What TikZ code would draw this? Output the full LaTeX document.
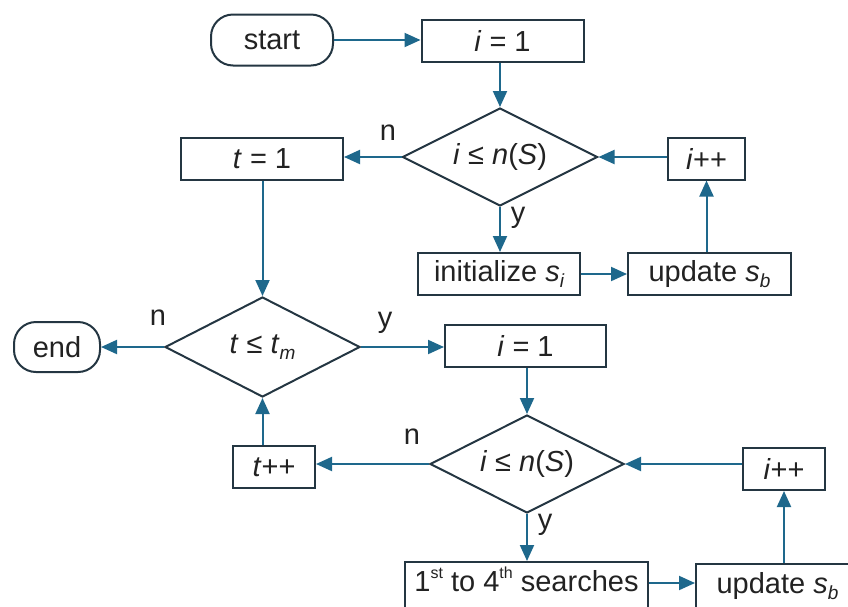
\documentclass[tikz,border=0pt]{standalone}
\usepackage{fontspec}
\setmainfont{Liberation Sans}
\usetikzlibrary{shapes.geometric,arrows.meta,positioning}

\definecolor{flowblue}{RGB}{30,104,140}
\definecolor{edgegray}{RGB}{36,54,66}
\definecolor{textgray}{RGB}{34,34,34}

\newcommand{\lowidx}[1]{\raisebox{-0.4ex}{\fontsize{19}{19}\selectfont\itshape #1}}
\newcommand{\ordsup}[1]{\raisebox{0.8ex}{\fontsize{16}{16}\selectfont #1}}

\tikzset{
  every node/.style={font=\fontsize{29}{33}\selectfont, text=textgray},
  box/.style={draw=edgegray, line width=2pt, minimum width=162pt, minimum height=42pt, inner sep=0pt},
  smallbox/.style={box, minimum width=80pt},
  lowbox/.style={box, minimum height=0pt, text height=29pt, text depth=26pt, anchor=north},
  terminal/.style={draw=edgegray, line width=2pt, rounded corners=22pt, minimum height=51pt, inner sep=0pt},
  decision/.style={diamond, draw=edgegray, line width=2pt, aspect=2, minimum width=195pt, minimum height=98pt, inner sep=0pt},
  flow/.style={draw=flowblue, line width=2pt, -{Triangle[length=16pt,width=14pt]}},
  tag/.style={inner sep=0pt},
}

\begin{document}
\begin{tikzpicture}[x=1pt, y=-1pt]

  \path[use as bounding box, clip] (0,0) rectangle (848,606);

  % outer loop: set up the population
  \node (start) [terminal, minimum width=122pt] at (272,40) {start};
  \node (I1) [box] at (502.5,41) {\textit{i} = 1};
  \node (D1) [decision] at (500,157) {\textit{i} ≤ \textit{n}(\textit{S})};
  \node (T1) [box] at (262,158.5) {\textit{t} = 1};
  \node (Inc1) [smallbox, minimum width=77pt] at (706.5,158.5) {\textit{i}++};
  \node (Init) [box] at (499,274) {initialize \textit{s}\lowidx{i}};
  \node (Upd1) [box, minimum width=163pt] at (709.5,274) {update \textit{s}\lowidx{b}};

  % iterations
  \node (D2) [decision, minimum height=100pt] at (262.5,347) {\textit{t} ≤ \textit{t}\lowidx{m}};
  \node (end) [terminal, minimum width=86pt, minimum height=50pt] at (57,347) {end};
  \node (I2) [box, minimum width=161pt] at (525.5,346) {\textit{i} = 1};
  \node (D3) [decision, minimum width=194pt] at (527,464) {\textit{i} ≤ \textit{n}(\textit{S})};
  \node (Inc2) [smallbox, minimum width=82pt] at (274,467) {\textit{t}++};
  \node (Inc3) [smallbox, minimum width=82pt] at (784,469) {\textit{i}++};
  \node (Search) [lowbox, minimum width=243pt] at (526.5,561) {1\ordsup{st} to 4\ordsup{th} searches};
  \node (Upd2) [lowbox, minimum width=163pt] at (777.5,563) {update \textit{s}\lowidx{b}};

  \node (n1) [tag] at (388,133) {n};
  \node (y1) [tag] at (518,218) {y};
  \node (n2) [tag] at (158,318) {n};
  \node (y2) [tag] at (385,323) {y};
  \node (n3) [tag] at (412,437) {n};
  \node (y3) [tag] at (545,525) {y};

  \draw [flow] (start) -- (start -| I1.west);
  \draw [flow] (I1.south -| D1) -- (D1);
  \draw [flow] (D1.west) -- (D1.west -| T1.east);
  \draw [flow] (D1.south) -- (D1.south |- Init.north);
  \draw [flow] (Init.east |- Upd1) -- (Upd1);
  \draw [flow] (Upd1.north -| Inc1) -- (Inc1);
  \draw [flow] (Inc1.west |- D1.east) -- (D1.east);
  \draw [flow] (T1.south -| D2) -- (D2);
  \draw [flow] (D2.west) -- (D2.west -| end.east);
  \draw [flow] (D2.east) -- (D2.east -| I2.west);
  \draw [flow] (I2.south -| D3) -- (D3);
  \draw [flow] (D3.west) -- (D3.west -| Inc2.east);
  \draw [flow] (Inc2.north -| D2) -- (D2);
  \draw [flow] (D3.south) -- (D3.south |- Search.north);
  \draw [flow] (Search.east |- 0,583) -- (Upd2.west |- 0,583);
  \draw [flow] (Upd2.north -| Inc3) -- (Inc3);
  \draw [flow] (Inc3.west |- D3.east) -- (D3.east);

\end{tikzpicture}
\end{document}
